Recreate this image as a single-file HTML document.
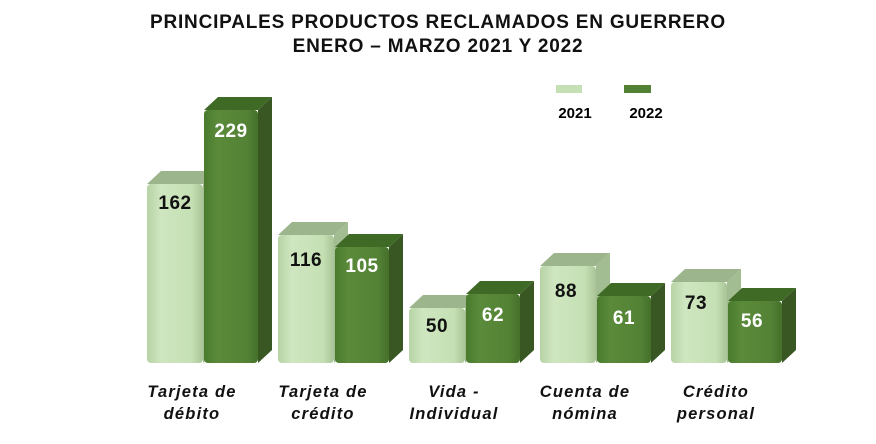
<!DOCTYPE html>
<html><head><meta charset="utf-8"><style>
html,body{margin:0;padding:0;background:#fff;}
svg{display:block;font-family:"Liberation Sans",sans-serif;}
.v{font-weight:bold;font-size:19px;text-anchor:middle;letter-spacing:0.5px;}
.c{font-weight:bold;font-style:italic;font-size:16.5px;text-anchor:middle;fill:#111;letter-spacing:1.2px;}
.t{font-weight:bold;font-size:19px;text-anchor:middle;fill:#111;letter-spacing:0.8px;}
</style></head><body>
<svg width="876" height="444" viewBox="0 0 876 444">
<defs>
<linearGradient id="lf" x1="0" x2="1"><stop offset="0" stop-color="#b7d3a5"/><stop offset="0.25" stop-color="#cfe6c0"/><stop offset="0.8" stop-color="#c5e0b4"/><stop offset="1" stop-color="#a9c497"/></linearGradient>
<linearGradient id="df" x1="0" x2="1"><stop offset="0" stop-color="#4a7a2c"/><stop offset="0.25" stop-color="#5a8a3a"/><stop offset="0.8" stop-color="#548235"/><stop offset="1" stop-color="#44702a"/></linearGradient>
</defs>
<text class="t" x="438" y="28">PRINCIPALES PRODUCTOS RECLAMADOS EN GUERRERO</text>
<text class="t" x="438" y="52">ENERO – MARZO 2021 Y 2022</text>
<rect x="556" y="85" width="26" height="8" fill="#c5e0b4"/>
<rect x="624" y="85" width="27" height="8" fill="#548235"/>
<text x="575" y="118" text-anchor="middle" font-weight="bold" font-size="15">2021</text>
<text x="646" y="118" text-anchor="middle" font-weight="bold" font-size="15">2022</text>

<polygon points="203,184 217,171 217,350 203,363" fill="#a3bd92"/>
<polygon points="147,184 161,171 217,171 203,184" fill="#9db58c"/>
<rect x="147" y="184" width="56" height="179" rx="4" fill="url(#lf)"/>
<polygon points="258,110 272,97 272,350 258,363" fill="#385723"/>
<polygon points="204,110 218,97 272,97 258,110" fill="#3f6a25"/>
<rect x="204" y="110" width="54" height="253" rx="4" fill="url(#df)"/>
<text class="v" x="175" y="209" fill="#111">162</text>
<text class="v" x="231" y="137" fill="#fff">229</text>

<polygon points="334,235 348,222 348,350 334,363" fill="#a3bd92"/>
<polygon points="278,235 292,222 348,222 334,235" fill="#9db58c"/>
<rect x="278" y="235" width="56" height="128" rx="4" fill="url(#lf)"/>
<polygon points="389,247 403,234 403,350 389,363" fill="#385723"/>
<polygon points="335,247 349,234 403,234 389,247" fill="#3f6a25"/>
<rect x="335" y="247" width="54" height="116" rx="4" fill="url(#df)"/>
<text class="v" x="306" y="266" fill="#111">116</text>
<text class="v" x="362" y="272" fill="#fff">105</text>

<polygon points="465,308 479,295 479,350 465,363" fill="#a3bd92"/>
<polygon points="409,308 423,295 479,295 465,308" fill="#9db58c"/>
<rect x="409" y="308" width="56" height="55" rx="4" fill="url(#lf)"/>
<polygon points="520,294 534,281 534,350 520,363" fill="#385723"/>
<polygon points="466,294 480,281 534,281 520,294" fill="#3f6a25"/>
<rect x="466" y="294" width="54" height="69" rx="4" fill="url(#df)"/>
<text class="v" x="437" y="332" fill="#111">50</text>
<text class="v" x="493" y="321" fill="#fff">62</text>

<polygon points="596,266 610,253 610,350 596,363" fill="#a3bd92"/>
<polygon points="540,266 554,253 610,253 596,266" fill="#9db58c"/>
<rect x="540" y="266" width="56" height="97" rx="4" fill="url(#lf)"/>
<polygon points="651,296 665,283 665,350 651,363" fill="#385723"/>
<polygon points="597,296 611,283 665,283 651,296" fill="#3f6a25"/>
<rect x="597" y="296" width="54" height="67" rx="4" fill="url(#df)"/>
<text class="v" x="566" y="297" fill="#111">88</text>
<text class="v" x="624" y="324" fill="#fff">61</text>

<polygon points="727,282 741,269 741,350 727,363" fill="#a3bd92"/>
<polygon points="671,282 685,269 741,269 727,282" fill="#9db58c"/>
<rect x="671" y="282" width="56" height="81" rx="4" fill="url(#lf)"/>
<polygon points="782,301 796,288 796,350 782,363" fill="#385723"/>
<polygon points="728,301 742,288 796,288 782,301" fill="#3f6a25"/>
<rect x="728" y="301" width="54" height="62" rx="4" fill="url(#df)"/>
<text class="v" x="696" y="309" fill="#111">73</text>
<text class="v" x="752" y="327" fill="#fff">56</text>

<text class="c" x="192" y="397">Tarjeta de</text>
<text class="c" x="192" y="419">débito</text>
<text class="c" x="323" y="397">Tarjeta de</text>
<text class="c" x="323" y="419">crédito</text>
<text class="c" x="454" y="397">Vida -</text>
<text class="c" x="454" y="419">Individual</text>
<text class="c" x="585" y="397">Cuenta de</text>
<text class="c" x="585" y="419">nómina</text>
<text class="c" x="716" y="397">Crédito</text>
<text class="c" x="716" y="419">personal</text>
</svg>
</body></html>
